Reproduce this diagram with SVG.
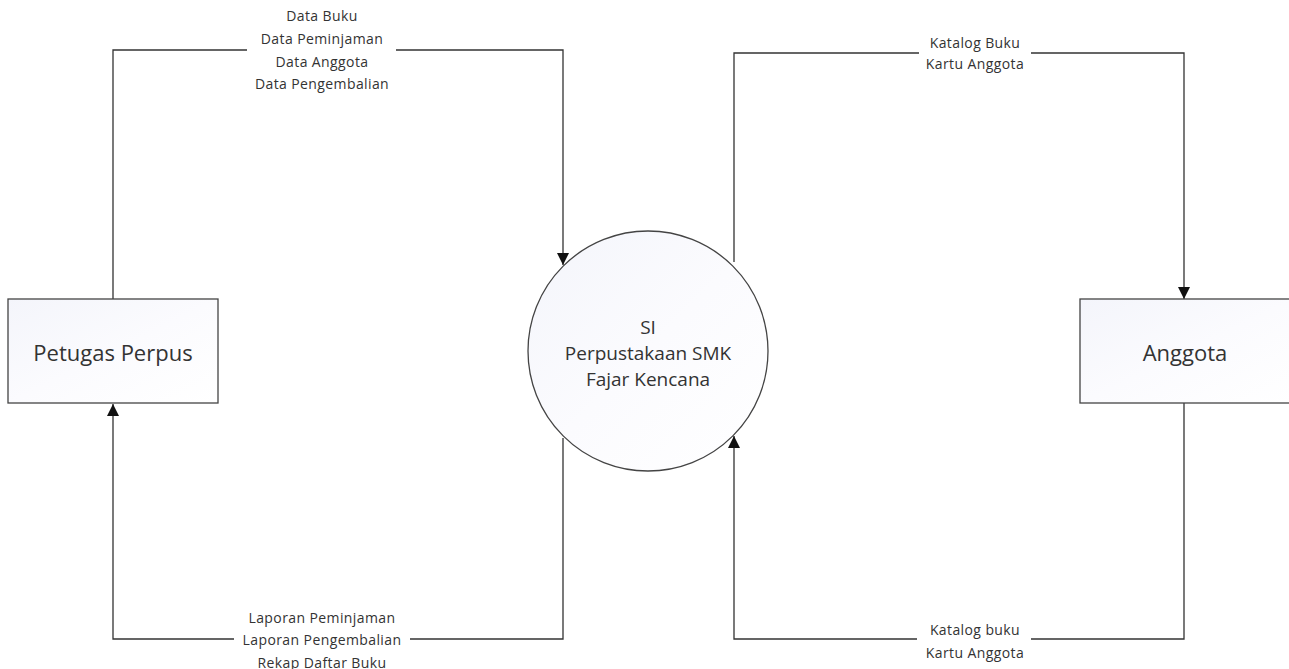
<svg xmlns="http://www.w3.org/2000/svg" width="1289" height="669" viewBox="0 0 1289 669">
<style>
.bg{fill:#ffffff}
.node{stroke:#444;stroke-width:1.3;fill:url(#g)}
.conn{fill:none;stroke:#333;stroke-width:1.3}
.lbl{font-family:"Open Sans","Noto Sans",sans-serif;font-size:14px;fill:#333;text-anchor:middle;dominant-baseline:central;letter-spacing:0.4px}
.nlbl{font-family:"Open Sans","Noto Sans",sans-serif;font-size:19px;fill:#333;text-anchor:middle;dominant-baseline:central}
.big{font-size:22px}
.mask{fill:#ffffff}
</style>
<defs>
<linearGradient id="g" x1="0" y1="0" x2="1" y2="1">
<stop offset="0" stop-color="#f4f5fb"/>
<stop offset="0.5" stop-color="#fbfbfe"/>
<stop offset="1" stop-color="#ffffff"/>
</linearGradient>
<marker id="arr" viewBox="0 0 10 10" refX="10" refY="5" markerWidth="13" markerHeight="12" markerUnits="userSpaceOnUse" orient="auto">
<path d="M0,0 L10,5 L0,10 z" fill="#111"/>
</marker>
</defs>
<rect class="bg" x="0" y="0" width="1289" height="669"/>
<g id="connectors">
<path class="conn" d="M113,299 V50 H563 V265" marker-end="url(#arr)"/>
<path class="conn" d="M734,262 V53 H1184 V299" marker-end="url(#arr)"/>
<path class="conn" d="M563,438 V639 H113 V404" marker-end="url(#arr)"/>
<path class="conn" d="M1184,403 V639 H734 V436" marker-end="url(#arr)"/>
</g>
<g id="label-top-left">
<rect class="mask" x="247" y="4" width="149" height="92"/>
<text class="lbl" x="322" y="15">Data Buku</text>
<text class="lbl" x="322" y="38">Data Peminjaman</text>
<text class="lbl" x="322" y="61">Data Anggota</text>
<text class="lbl" x="322" y="83">Data Pengembalian</text>
</g>
<g id="label-top-right">
<rect class="mask" x="919" y="32" width="112" height="42"/>
<text class="lbl" x="975" y="42">Katalog Buku</text>
<text class="lbl" x="975" y="63">Kartu Anggota</text>
</g>
<g id="label-bottom-left">
<rect class="mask" x="234" y="606" width="176" height="63"/>
<text class="lbl" x="322" y="617">Laporan Peminjaman</text>
<text class="lbl" x="322" y="639">Laporan Pengembalian</text>
<text class="lbl" x="322" y="662">Rekap Daftar Buku</text>
</g>
<g id="label-bottom-right">
<rect class="mask" x="917" y="619" width="114" height="44"/>
<text class="lbl" x="975" y="629">Katalog buku</text>
<text class="lbl" x="975" y="652">Kartu Anggota</text>
</g>
<g id="petugas">
<rect class="node" x="8" y="299" width="210" height="104"/>
<text class="nlbl big" x="113" y="352">Petugas Perpus</text>
</g>
<g id="sistem">
<circle class="node" cx="648" cy="351" r="120"/>
<text class="nlbl" x="648" y="327">SI</text>
<text class="nlbl" x="648" y="353">Perpustakaan SMK</text>
<text class="nlbl" x="648" y="379">Fajar Kencana</text>
</g>
<g id="anggota">
<rect class="node" x="1080" y="299" width="215" height="104"/>
<text class="nlbl big" x="1185" y="352">Anggota</text>
</g>
</svg>
